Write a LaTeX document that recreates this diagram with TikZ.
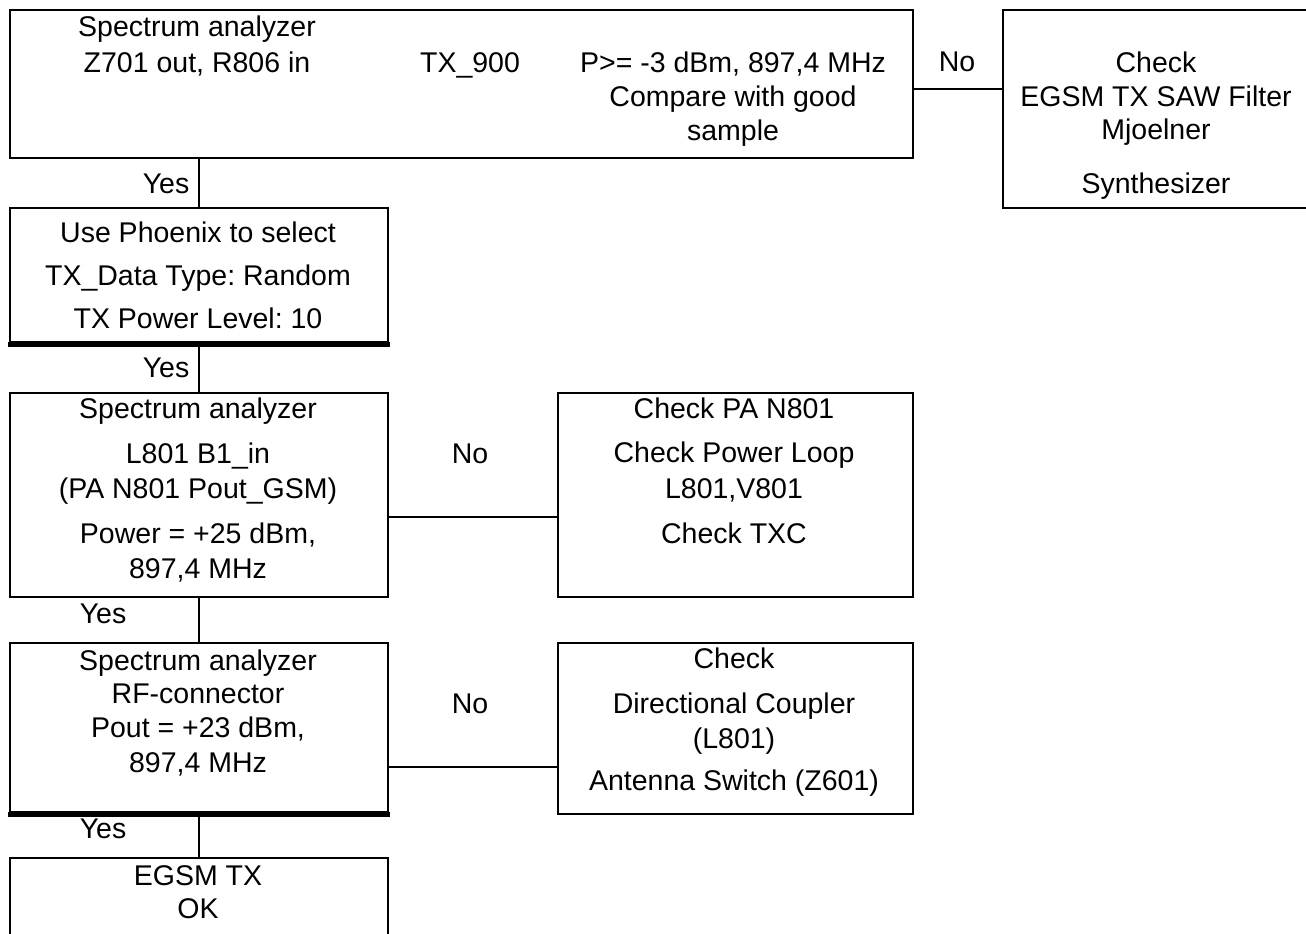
\documentclass[tikz,border=0pt]{standalone}
\usepackage{fontspec}
\setmainfont{Liberation Sans}
\frenchspacing
\begin{document}
\begin{tikzpicture}[x=1pt,y=-1pt,
  box/.style={draw, line width=2pt, rectangle, inner sep=0pt, anchor=north west},
  thickbot/.style={line width=5pt},
  conn/.style={line width=2pt},
  lbl/.style={anchor=base, inner sep=0pt, font=\fontsize{28.5}{34}\selectfont\frenchspacing},
]
\useasboundingbox (0,0) rectangle (1306,934);
\clip (0,0) rectangle (1306,934);

% boxes
\node[box, minimum width=903pt, minimum height=148pt] (b1) at (9,9) {};
\node[box, minimum width=308pt, minimum height=198pt] (chk1) at (1002,9) {};
\node[box, minimum width=378pt, minimum height=134pt] (b2) at (9,207) {};
\node[box, minimum width=378pt, minimum height=204pt] (b3) at (9,392) {};
\node[box, minimum width=355pt, minimum height=204pt] (c3) at (557,392) {};
\node[box, minimum width=378pt, minimum height=169pt] (b4) at (9,642) {};
\node[box, minimum width=355pt, minimum height=171pt] (c4) at (557,642) {};
\node[box, minimum width=378pt, minimum height=100pt] (b5) at (9,857) {};

% thick bottoms
\draw[thickbot] ([xshift=-1pt,yshift=-1.5pt]b2.south west) -- ([xshift=1pt,yshift=-1.5pt]b2.south east);
\draw[thickbot] ([xshift=-1pt,yshift=-1.5pt]b4.south west) -- ([xshift=1pt,yshift=-1.5pt]b4.south east);

% connectors
\coordinate (h1) at (0,89);
\coordinate (h3) at (0,517);
\coordinate (h4) at (0,767);
\draw[conn] (b1.south -| b2.north) -- (b2.north);
\draw[conn] (b2.south) -- (b3.north);
\draw[conn] (b3.south) -- (b4.north);
\draw[conn] (b4.south) -- (b5.north);
\draw[conn] (b1.east |- h1) -- (chk1.west |- h1);
\draw[conn] (b3.east |- h3) -- (c3.west |- h3);
\draw[conn] (b4.east |- h4) -- (c4.west |- h4);

% box 1 texts
\node[lbl] (t1a) at (197,37) {Spectrum analyzer};
\node[lbl] (t1b) at (197,72) {Z701 out, R806 in};
\node[lbl] (t1c) at (470,72) {TX\_900};
\node[lbl] (t1d) at (733,72) {P>= -3 dBm, 897,4 MHz};
\node[lbl] (t1e) at (733,106) {Compare with good};
\node[lbl] (t1f) at (733,140) {sample};

% check 1 texts
\node[lbl] (k1a) at (1156,72) {Check};
\node[lbl] (k1b) at (1156,106) {EGSM TX SAW Filter};
\node[lbl] (k1c) at (1156,139) {Mjoelner};
\node[lbl] (k1d) at (1156,193) {Synthesizer};

% box 2 texts
\node[lbl] (t2a) at (198,242) {Use Phoenix to select};
\node[lbl] (t2b) at (198,285) {TX\_Data Type: Random};
\node[lbl] (t2c) at (198,328) {TX Power Level: 10};

% box 3 texts
\node[lbl] (t3a) at (198,418) {Spectrum analyzer};
\node[lbl] (t3b) at (198,463) {L801 B1\_in};
\node[lbl] (t3c) at (198,498) {(PA N801 Pout\_GSM)};
\node[lbl] (t3d) at (198,543) {Power = +25 dBm,};
\node[lbl] (t3e) at (198,578) {897,4 MHz};

% check 3 texts
\node[lbl] (k3a) at (734,418) {Check PA N801};
\node[lbl] (k3b) at (734,462) {Check Power Loop};
\node[lbl] (k3c) at (734,498) {L801,V801};
\node[lbl] (k3d) at (734,543) {Check TXC};

% box 4 texts
\node[lbl] (t4a) at (198,670) {Spectrum analyzer};
\node[lbl] (t4b) at (198,703) {RF-connector};
\node[lbl] (t4c) at (198,737) {Pout = +23 dBm,};
\node[lbl] (t4d) at (198,772) {897,4 MHz};

% check 4 texts
\node[lbl] (k4a) at (734,668) {Check};
\node[lbl] (k4b) at (734,713) {Directional Coupler};
\node[lbl] (k4c) at (734,748) {(L801)};
\node[lbl] (k4d) at (734,790) {Antenna Switch (Z601)};

% box 5 texts
\node[lbl] (t5a) at (198,885) {EGSM TX};
\node[lbl] (t5b) at (198,918) {OK};

% yes / no labels
\node[lbl] (y1) at (166,193) {Yes};
\node[lbl] (y2) at (166,377) {Yes};
\node[lbl] (y3) at (103,623) {Yes};
\node[lbl] (y4) at (103,838) {Yes};
\node[lbl] (n1) at (957,71) {No};
\node[lbl] (n3) at (470,463) {No};
\node[lbl] (n4) at (470,713) {No};
\end{tikzpicture}
\end{document}
